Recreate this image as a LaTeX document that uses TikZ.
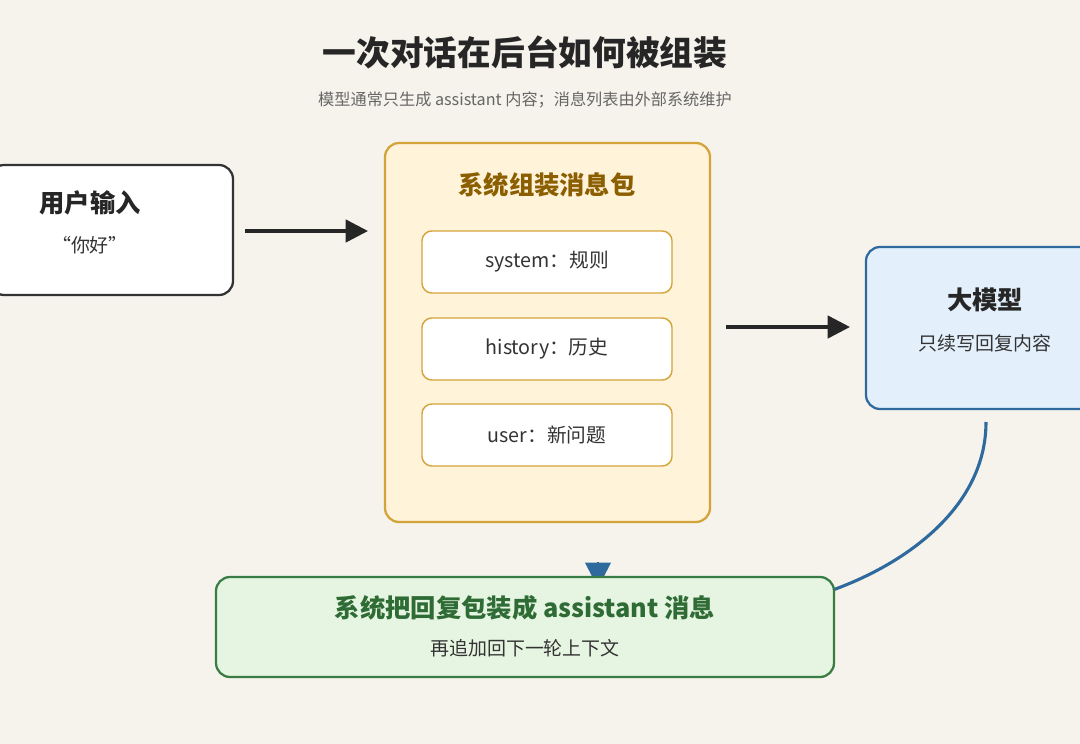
\documentclass[tikz,border=0pt]{standalone}
\usepackage{fontspec}
\setmainfont{Noto Sans CJK SC}
\usetikzlibrary{arrows.meta,positioning}
\definecolor{bgc}{HTML}{F5F3EC}
\definecolor{pkgfill}{HTML}{FFF3D9}
\definecolor{pkgdraw}{HTML}{D4A33A}
\definecolor{pkgtext}{HTML}{8B5E00}
\definecolor{modfill}{HTML}{E3F0FC}
\definecolor{moddraw}{HTML}{2F6A9E}
\definecolor{grnfill}{HTML}{E6F5E1}
\definecolor{grndraw}{HTML}{3A7D44}
\definecolor{grntext}{HTML}{2E6B35}
\definecolor{txt}{HTML}{333333}
\begin{document}
\begin{tikzpicture}[
    x=0.025cm, y=-0.025cm,
    box/.style={rectangle, rounded corners=10pt, line width=1.6pt},
    item/.style={rectangle, rounded corners=7pt, draw=pkgdraw, fill=white, line width=1pt, minimum width=6.25cm, minimum height=1.55cm, font=\fontsize{14}{16}\selectfont, text=txt},
    head/.style={font=\bfseries\fontsize{18}{21}\selectfont},
    sub/.style={font=\fontsize{13.5}{16}\selectfont, text=txt},
    arrow/.style={-{Triangle[length=16pt,width=16pt]}, line width=2.5pt, black!85}
]
\fill[bgc] (0,0) rectangle (1080,744);
\useasboundingbox (0,0) rectangle (1080,744);

\node[font=\bfseries\fontsize{24}{28}\selectfont, text=black!85] (title) at (525,52) {一次对话在后台如何被组装};
\node[font=\fontsize{11.5}{14}\selectfont, text=black!60] (subtitle) at (525,100) {模型通常只生成 assistant 内容；消息列表由外部系统维护};

% user input
\draw[box, draw=black!80, fill=white] (-10,165) rectangle (233,295);
\node[head, text=black!85] (user) at (90,203) {用户输入};
\node[sub] (usersub) at (90,245) {“你好”};
\coordinate (userE) at (245,231);

% package
\draw[box, draw=pkgdraw, fill=pkgfill] (385,143) rectangle (710,522);
\node[head, text=pkgtext] (pkg) at (547,185) {系统组装消息包};
\node[item] (sys) at (547,262) {system：规则};
\node[item] (hist) at (547,349) {history：历史};
\node[item] (usr) at (547,435) {user：新问题};
\coordinate (pkgW) at (368,231);
\coordinate (pkgE) at (726,327);

% model
\draw[box, draw=moddraw, fill=modfill] (866,247) rectangle (1095,409);
\node[head, text=black!85] (model) at (985,300) {大模型};
\node[sub] (modelsub) at (985,343) {只续写回复内容};
\coordinate (modS) at (986,422);
\coordinate (modW) at (850,327);
\coordinate (bend) at (800,600);
\coordinate (backA) at (598,562);
\coordinate (back) at (598,588);

\draw[arrow] (userE) -- (pkgW);
\draw[arrow] (pkgE) -- (modW);
\draw[line width=2.2pt, moddraw] (modS) .. controls (986,520) and (880,580) .. (bend);
\draw[-{Triangle[length=18pt,width=18pt]}, line width=2pt, moddraw] (backA) -- (back);

% green
\draw[box, draw=grndraw, fill=grnfill] (216,577) rectangle (834,677);
\node[head, text=grntext] (wrap) at (525,608) {系统把回复包装成 assistant 消息};
\node[sub] (wrapsub) at (525,648) {再追加回下一轮上下文};
\end{tikzpicture}
\end{document}
